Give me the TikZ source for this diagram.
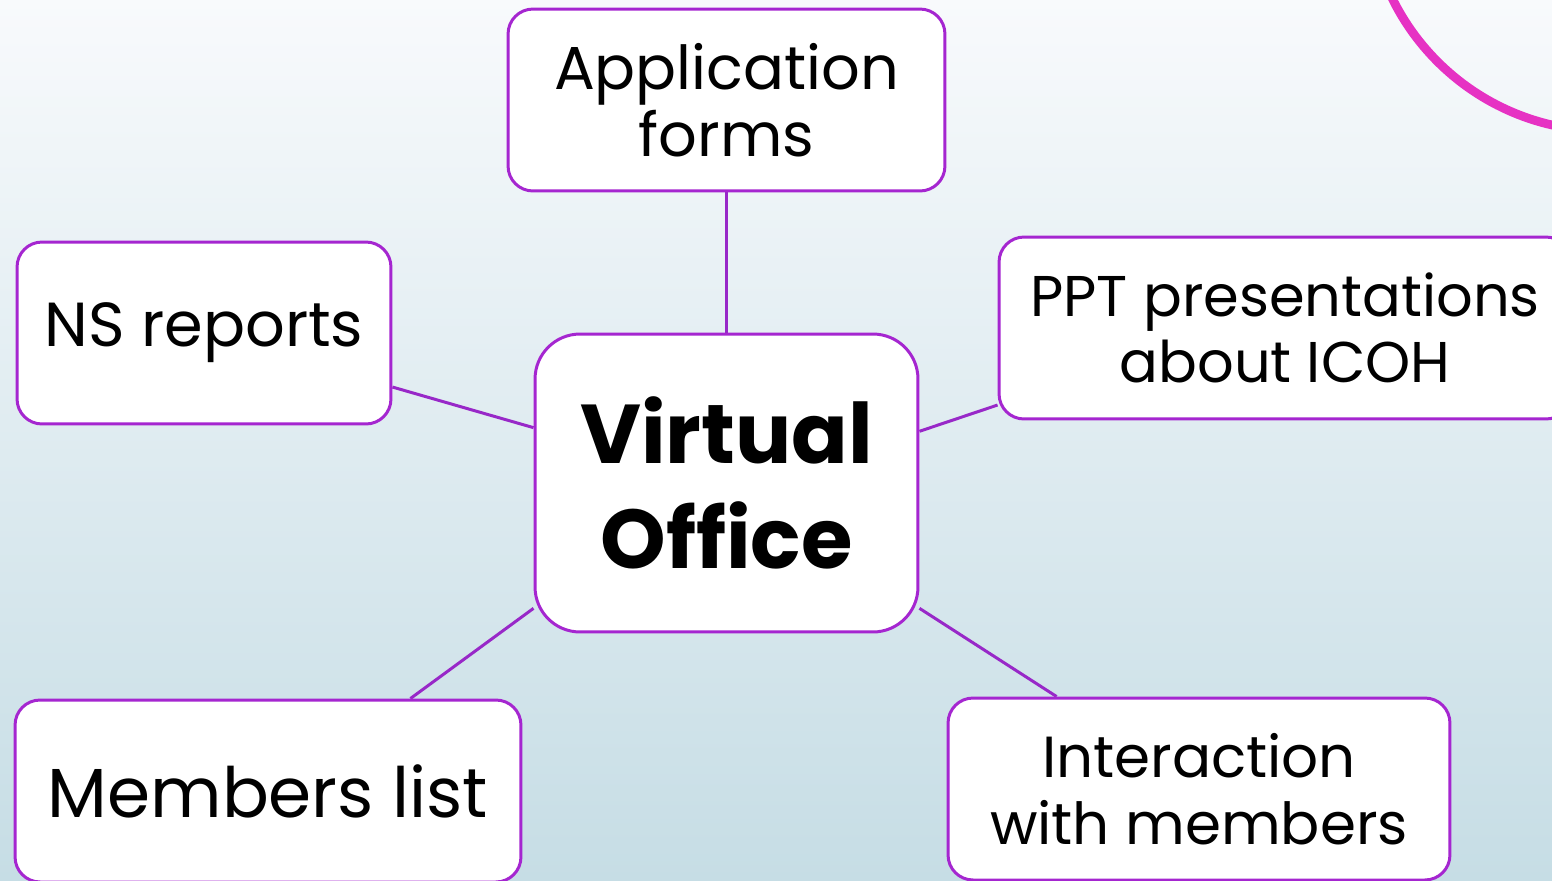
\documentclass[tikz,border=0pt]{standalone}
\usepackage{fontspec}
\setmainfont{Poppins}
\definecolor{boxline}{RGB}{165,38,208}
\definecolor{edgeline}{RGB}{152,40,200}
\definecolor{ring}{RGB}{230,50,195}
\definecolor{bgtop}{RGB}{248,250,252}
\definecolor{bgbot}{RGB}{198,221,229}
\pgfdeclarelayer{bg}
\pgfdeclarelayer{edges}
\pgfsetlayers{bg,edges,main}
\begin{document}
\begin{tikzpicture}[x=0.02cm,y=-0.02cm,
  topic/.style={draw=boxline, line width=1.7pt, fill=white, rounded corners=0.5cm,
    align=center, inner sep=0pt, text=black, minimum height=3.64cm},
  hub/.style={topic, rounded corners=0.9cm, font=\bfseries\fontsize{47.5}{59.5}\selectfont},
  link/.style={draw=edgeline, line width=1.7pt}]
\useasboundingbox (0,0) rectangle (1552,880);
\begin{pgfonlayer}{bg}
\shade[top color=bgtop, bottom color=bgbot] (0,0) rectangle (1552,880);
\end{pgfonlayer}
\clip (0,0) rectangle (1552,880);
\draw[draw=ring, line width=5pt] (1605,-106) circle (4.74cm);
\node[topic, minimum width=8.74cm, font=\fontsize{34.5}{38}\selectfont] (app) at (726.5,100) {Application\\forms};
\node[topic, minimum width=7.48cm, font=\fontsize{35.4}{40}\selectfont] (ns) at (204,333) {NS reports};
\node[topic, minimum width=11.44cm, font=\fontsize{32.7}{38}\selectfont] (ppt) at (1285,328) {PPT presentations\\about ICOH};
\node[hub, minimum width=7.66cm, minimum height=5.96cm] (vo) at (726.5,483) {Virtual\\Office};
\node[topic, minimum width=10.12cm, font=\fontsize{39.5}{45}\selectfont] (mem) at (268,791) {Members list};
\node[topic, minimum width=10.04cm, font=\fontsize{33}{38}\selectfont] (inter) at (1199,789) {Interaction\\with members};
\begin{pgfonlayer}{edges}
\draw[link] (app.south) -- (vo.north);
\draw[link] (ns.344.2) -- (vo.164);
\draw[link] (vo.15.5) -- (ppt.195.4);
\draw[link] (vo.213.8) -- (mem.33.6);
\draw[link] (vo.327.3) -- (inter.147.2);
\end{pgfonlayer}
\end{tikzpicture}
\end{document}
